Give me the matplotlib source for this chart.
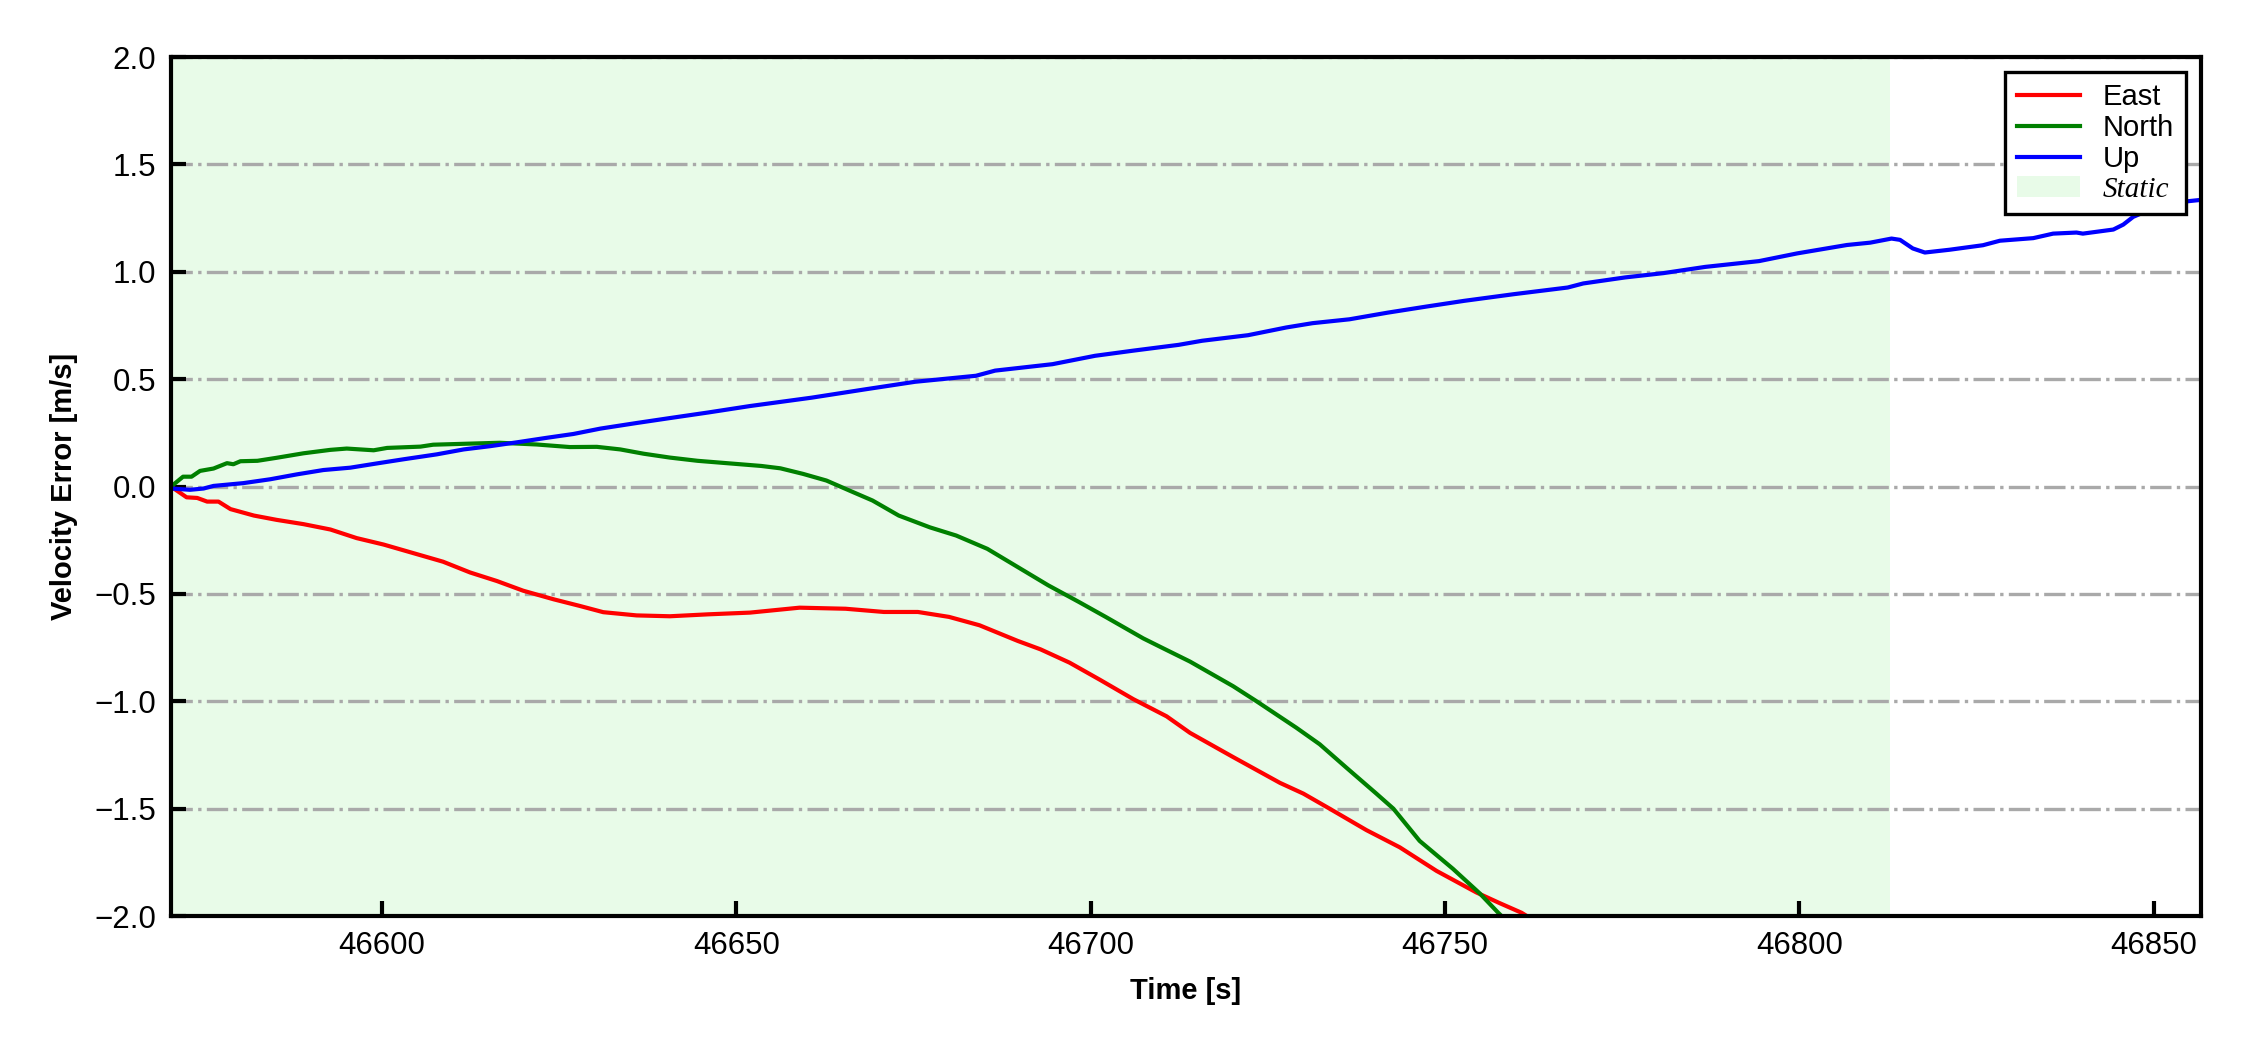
import numpy as np
import matplotlib
matplotlib.use('Agg')
import matplotlib.pyplot as plt
from matplotlib.patches import Patch

plt.rcParams['font.family'] = ['Liberation Sans', 'DejaVu Sans']

# ---------- data ----------
t_east = [46570.2, 46572.4, 46573.9, 46575.3, 46576.9, 46578.6, 46581.9, 46585.1, 46588.9, 46592.7,
          46596.4, 46600.2, 46604.4, 46608.6, 46612.4, 46616.2, 46619.9, 46624.2, 46627.9, 46631.2,
          46635.9, 46640.6, 46646.0, 46651.9, 46658.9, 46665.4, 46670.8, 46675.6, 46680.0, 46684.3,
          46689.7, 46692.9, 46697.0, 46701.3, 46706.0, 46710.7, 46714.0, 46720.1, 46726.7, 46730.0,
          46733.7, 46738.9, 46743.6, 46748.8, 46754.4, 46757.7, 46760.8, 46762.5]
v_east = [0.0, -0.05, -0.053, -0.07, -0.07, -0.105, -0.135, -0.155, -0.175, -0.20,
          -0.24, -0.27, -0.31, -0.35, -0.40, -0.44, -0.485, -0.525, -0.556, -0.585,
          -0.60, -0.604, -0.595, -0.587, -0.564, -0.569, -0.584, -0.584, -0.607, -0.646,
          -0.719, -0.758, -0.82, -0.90, -0.99, -1.07, -1.147, -1.26, -1.38, -1.43,
          -1.50, -1.60, -1.68, -1.79, -1.89, -1.94, -1.985, -2.02]

t_north = [46570.2, 46571.9, 46573.1, 46574.3, 46576.2, 46578.1, 46579.0, 46580.0, 46582.4, 46585.1,
           46588.9, 46592.7, 46595.0, 46598.8, 46600.7, 46605.4, 46607.2, 46612.4, 46616.6, 46621.8,
           46626.5, 46630.3, 46633.6, 46636.9, 46640.6, 46644.5, 46649.0, 46653.5, 46656.2, 46659.4,
           46662.7, 46665.9, 46669.2, 46672.9, 46677.3, 46681.0, 46685.4, 46689.7, 46694.0, 46698.3,
           46702.1, 46707.4, 46710.2, 46714.0, 46720.1, 46723.4, 46729.0, 46732.3, 46736.1, 46740.3,
           46742.7, 46746.4, 46751.1, 46754.9, 46757.5, 46758.6]
v_north = [0.0, 0.046, 0.046, 0.073, 0.084, 0.109, 0.104, 0.118, 0.12, 0.134,
           0.155, 0.171, 0.177, 0.169, 0.18, 0.186, 0.195, 0.20, 0.204, 0.196,
           0.184, 0.185, 0.173, 0.153, 0.135, 0.12, 0.108, 0.096, 0.085, 0.059,
           0.028, -0.018, -0.065, -0.135, -0.19, -0.228, -0.29, -0.375, -0.46, -0.537,
           -0.607, -0.707, -0.753, -0.815, -0.93, -1.0, -1.123, -1.20, -1.31, -1.43,
           -1.50, -1.65, -1.78, -1.895, -1.985, -2.02]

t_up = [46570.2, 46572.9, 46574.8, 46576.2, 46580.4, 46584.2, 46588.0, 46591.7, 46595.5, 46599.3,
        46603.0, 46607.7, 46611.5, 46615.2, 46619.0, 46623.2, 46627.0, 46630.8, 46635.9, 46640.6,
        46646.0, 46651.9, 46660.6, 46668.2, 46675.2, 46683.8, 46686.5, 46694.6, 46700.6, 46706.0,
        46712.4, 46715.7, 46722.2, 46727.6, 46731.3, 46736.5, 46741.9, 46747.3, 46752.7, 46759.7,
        46767.3, 46769.5, 46775.4, 46780.8, 46786.7, 46794.3, 46799.7, 46806.7, 46810.0, 46813.0,
        46814.2, 46816.0, 46817.7, 46821.2, 46825.9, 46828.3, 46833.0, 46835.8, 46839.1, 46840.0,
        46844.3, 46845.7, 46847.1, 46849.5, 46852.3, 46856.6]
v_up = [-0.009, -0.015, -0.009, 0.003, 0.016, 0.034, 0.057, 0.077, 0.088, 0.108,
        0.127, 0.15, 0.173, 0.188, 0.206, 0.227, 0.245, 0.27, 0.296, 0.319,
        0.345, 0.375, 0.414, 0.453, 0.488, 0.516, 0.54, 0.57, 0.609, 0.633,
        0.66, 0.679, 0.705, 0.741, 0.761, 0.779, 0.81, 0.838, 0.865, 0.896,
        0.927, 0.946, 0.974, 0.994, 1.023, 1.05, 1.086, 1.125, 1.136, 1.155,
        1.149, 1.109, 1.09, 1.103, 1.124, 1.145, 1.157, 1.178, 1.183, 1.178,
        1.197, 1.22, 1.256, 1.29, 1.32, 1.335]

static_span = [46570.2, 46812.8]
t_range = [46570.2, 46856.6]

# ---------- plot ----------
fig = plt.figure(figsize=(7.5, 3.5), dpi=300)
ax = fig.add_axes([0.076, 0.1276, 0.902, 0.818])

ax.axvspan(static_span[0], static_span[1], color='lightgreen', alpha=0.2, lw=0, zorder=0)
ax.plot(t_east, v_east, color='r', lw=1.0, label='East')
ax.plot(t_north, v_north, color='g', lw=1.0, label='North')
ax.plot(t_up, v_up, color='b', lw=1.0, label='Up')

ax.set_xlim(t_range)
ax.set_ylim(-2.0, 2.0)
ax.set_yticks(np.arange(-2.0, 2.01, 0.5))
ax.yaxis.grid(True, linestyle='-.', color='darkgray', lw=0.8)
ax.set_axisbelow(True)

for s in ax.spines.values():
    s.set_linewidth(1.0)
ax.tick_params(direction='in', width=1.0, length=3.5, labelsize=7.5)
ax.set_xlabel('Time [s]', fontsize=7, fontweight='bold')
ax.set_ylabel('Velocity Error [m/s]', fontsize=7, fontweight='bold')

handles, labels = ax.get_legend_handles_labels()
handles.append(Patch(facecolor='lightgreen', alpha=0.2, edgecolor='none'))
labels.append('Static')
leg = ax.legend(handles, labels, loc='upper right', fontsize=7, labelspacing=0.1,
                handlelength=2.15, fancybox=False, framealpha=1, edgecolor='black')
leg.get_frame().set_linewidth(0.8)
leg.get_texts()[3].set_family('Liberation Serif')
leg.get_texts()[3].set_style('italic')

plt.savefig('out.png', dpi=300)
plt.close()
